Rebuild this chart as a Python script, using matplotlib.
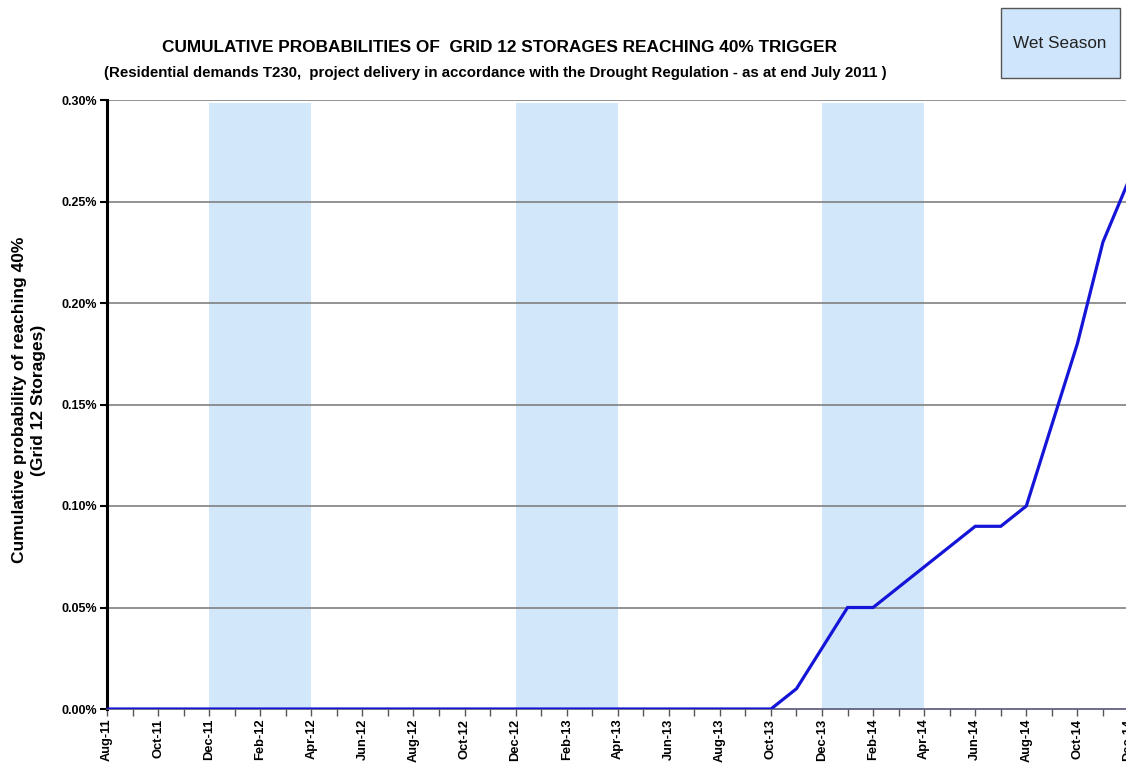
import matplotlib
matplotlib.use("Agg")
import matplotlib.pyplot as plt
from matplotlib.ticker import FixedLocator, FuncFormatter
from matplotlib.patches import Rectangle

plt.rcParams['font.family'] = ['Liberation Sans', 'DejaVu Sans']

months = ["Aug-11", "Sep-11", "Oct-11", "Nov-11", "Dec-11", "Jan-12", "Feb-12", "Mar-12",
          "Apr-12", "May-12", "Jun-12", "Jul-12", "Aug-12", "Sep-12", "Oct-12", "Nov-12",
          "Dec-12", "Jan-13", "Feb-13", "Mar-13", "Apr-13", "May-13", "Jun-13", "Jul-13",
          "Aug-13", "Sep-13", "Oct-13", "Nov-13", "Dec-13", "Jan-14", "Feb-14", "Mar-14",
          "Apr-14", "May-14", "Jun-14", "Jul-14", "Aug-14", "Sep-14", "Oct-14", "Nov-14",
          "Dec-14"]
probability_pct = [0.0] * 27 + [0.01, 0.03, 0.05, 0.05, 0.06, 0.07, 0.08, 0.09, 0.09,
                                0.10, 0.14, 0.18, 0.23, 0.26]
wet_seasons = [("Dec-11", "Apr-12"), ("Dec-12", "Apr-13"), ("Dec-13", "Apr-14")]
yticks_pct = [0.00, 0.05, 0.10, 0.15, 0.20, 0.25, 0.30]

fig = plt.figure(figsize=(11.26, 7.65), dpi=100)
ax = fig.add_axes([107/1126, 56/765, 1047/1126, 609/765])

x = list(range(len(months)))

for start, end in wet_seasons:
    s, e = months.index(start), months.index(end)
    ax.axvspan(s, e, ymin=0, ymax=0.995, facecolor="#d3e7fb", edgecolor="none", zorder=0)

for yv in yticks_pct[1:]:
    ax.axhline(yv, color="#808080", lw=1.2, zorder=1)

ax.plot(x, probability_pct, color="#1515d8", lw=2.3, zorder=3, solid_joinstyle="miter")

ax.set_xlim(0, 41)
ax.set_ylim(0, 0.30)

ax.xaxis.set_major_locator(FixedLocator(x[::2]))
ax.xaxis.set_minor_locator(FixedLocator(x))
ax.set_xticklabels(months[::2], rotation=90, fontsize=9.3, fontweight="bold")
ax.tick_params(axis="x", which="both", direction="out", length=5, width=1, color="#555555", pad=2)

ax.set_yticks(yticks_pct)
ax.yaxis.set_major_formatter(FuncFormatter(lambda v, p: f"{v:.2f}%"))
for lab in ax.get_yticklabels():
    lab.set_fontweight("bold")
    lab.set_fontsize(9)
ax.tick_params(axis="y", direction="out", length=5, width=1.5, color="black", pad=2)

ax.spines["top"].set_visible(False)
ax.spines["right"].set_visible(False)
ax.spines["left"].set_linewidth(2.2)
ax.spines["left"].set_color("black")
ax.spines["bottom"].set_linewidth(1.2)
ax.spines["bottom"].set_color("#555577")

fig.text(29/1126, 1 - 400/765, "Cumulative probability of reaching 40%\n(Grid 12 Storages)",
         rotation=90, ha="center", va="center", fontsize=12.5, fontweight="bold",
         linespacing=1.3, multialignment="center")

fig.text(500/1126, 1 - 47/765, "CUMULATIVE PROBABILITIES OF  GRID 12 STORAGES REACHING 40% TRIGGER",
         ha="center", va="center", fontsize=12.4, fontweight="bold")
fig.text(495/1126, 1 - 73/765,
         "(Residential demands T230,  project delivery in accordance with the Drought Regulation - as at end July 2011 )",
         ha="center", va="center", fontsize=10.8, fontweight="bold")

box = Rectangle((1001/1126, 1 - 78/765), 119/1126, 70/765, transform=fig.transFigure,
                facecolor="#cfe5fb", edgecolor="#555555", lw=1.0)
fig.patches.append(box)
fig.text(1060/1126, 1 - 43/765, "Wet Season", ha="center", va="center", fontsize=12.3, color="#222222")

fig.savefig("out.png", dpi=100)
